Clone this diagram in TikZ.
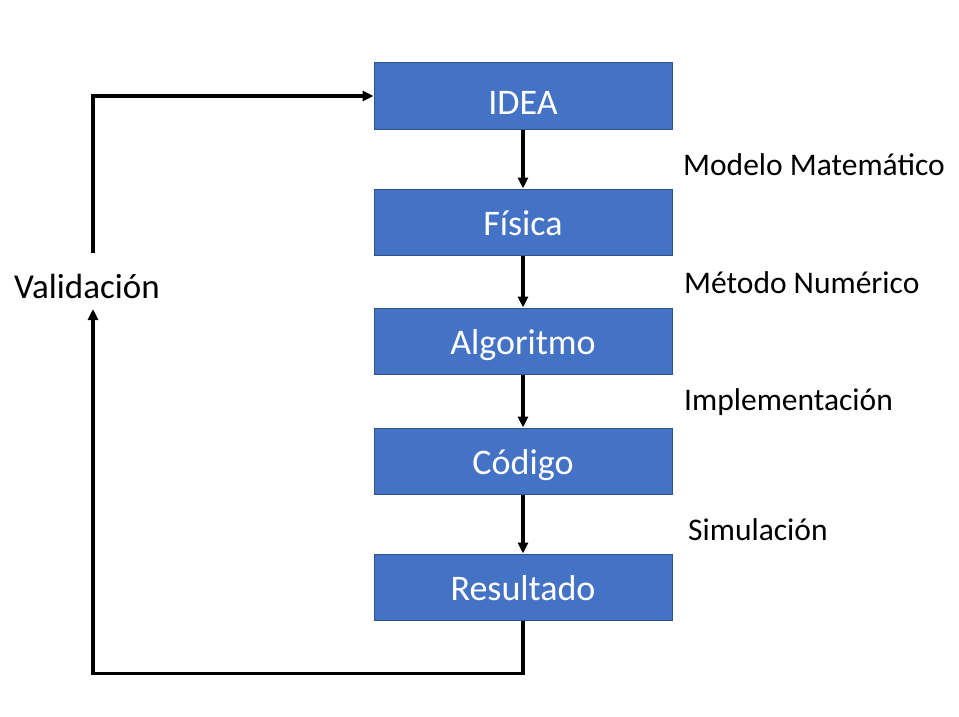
\documentclass[tikz,border=0pt]{standalone}
\usepackage{fontspec}
\setmainfont{Carlito}
\usetikzlibrary{arrows.meta}
\definecolor{boxfill}{HTML}{4472C4}
\definecolor{boxedge}{HTML}{2F528F}
\tikzset{
  stepbox/.style={draw=boxedge, line width=1pt, fill=boxfill, text=white, minimum width=298pt, minimum height=66pt, inner sep=0pt, text height=26pt, text depth=0pt, font=\fontsize{36}{40}\selectfont},
  sidelabel/.style={anchor=west, inner sep=0pt, font=\fontsize{31.5}{36}\selectfont},
  link/.style={line width=3.4pt, -{Triangle[length=11pt,width=10pt]}}
}
\begin{document}
\begin{tikzpicture}[x=1pt,y=-1pt]
\useasboundingbox (0,0) rectangle (959,717);
\node[stepbox, text height=37pt] (idea) at (523,96) {IDEA};
\node[stepbox] (fis) at (523,222) {Física};
\node[stepbox] (alg) at (523,341) {Algoritmo};
\node[stepbox] (cod) at (523,461) {Código};
\node[stepbox] (res) at (523,587) {Resultado};

\node[sidelabel] (m1) at (683,165) {Modelo Matemático};
\node[sidelabel] (m2) at (684,283) {Método Numérico};
\node[sidelabel] (m3) at (684,402) {Implementación};
\node[sidelabel] (m4) at (688,530) {Simulación};

\node[inner sep=0pt, font=\fontsize{35}{40}\selectfont] (val) at (87,286) {Validación};
\coordinate (vtop) at (93,253);
\coordinate (vbot) at (93,309);

\draw[link] (idea) -- (fis);
\draw[link] (fis) -- (alg);
\draw[link] (alg) -- (cod);
\draw[link] (cod) -- (res);
\draw[link] (res.south) -- ++(0,53) -| (vbot);
\draw[link] (vtop) |- (idea.west);
\end{tikzpicture}
\end{document}
